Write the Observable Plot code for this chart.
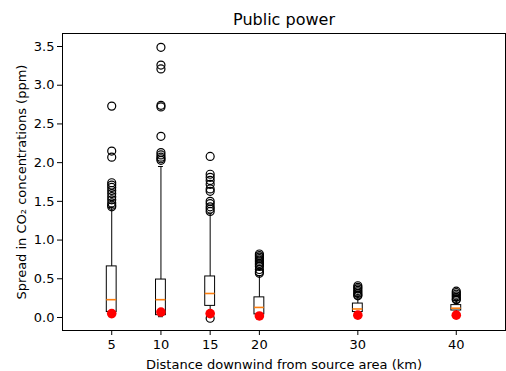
<!DOCTYPE html>
<html>
<head>
<meta charset="utf-8">
<script src="https://cdn.jsdelivr.net/npm/d3@7"></script>
<script src="https://cdn.jsdelivr.net/npm/@observablehq/plot@0.6"></script>
<style>
  html, body { margin: 0; padding: 0; background: #fff; }
</style>
</head>
<body>
<div id="chart"></div>
<script>
const title = "Public power";
const xLabel = "Distance downwind from source area (km)";
const yLabel = "Spread in CO₂ concentrations (ppm)";

const positions = [5, 10, 15, 20, 30, 40];
const q1 = [0.07, 0.03, 0.15, 0.04, 0.07, 0.09];
const medians = [0.23, 0.23, 0.31, 0.13, 0.11, 0.12];
const q3 = [0.66, 0.49, 0.53, 0.26, 0.18, 0.16];
const whiskerLow = [0.01, 0.01, 0.06, 0.00, 0.02, 0.03];
const whiskerHigh = [1.42, 1.95, 1.34, 0.54, 0.27, 0.22];
const redDots = [0.05, 0.07, 0.05, 0.02, 0.03, 0.03];

const outliers5 = [2.73, 2.15, 2.07, 1.74, 1.71, 1.68, 1.64, 1.60, 1.56, 1.52, 1.48, 1.45, 1.43];
const outliers10 = [3.49, 3.26, 3.21, 2.74, 2.72, 2.34, 2.13, 2.10, 2.07, 2.05, 2.03];
const outliers15 = [2.08, 1.85, 1.81, 1.77, 1.72, 1.66, 1.63, 1.50, 1.47, 1.43, 1.40, 1.37, -0.01];
const outliers20 = [0.82, 0.80, 0.78, 0.76, 0.74, 0.72, 0.70, 0.68, 0.66, 0.62, 0.59, 0.57];
const outliers30 = [0.41, 0.39, 0.37, 0.35, 0.33, 0.31, 0.29, 0.28];
const outliers40 = [0.34, 0.32, 0.30, 0.28, 0.26, 0.24, 0.23];

const xTicks = [5, 10, 15, 20, 30, 40];
const yTicks = [0, 0.5, 1, 1.5, 2, 2.5, 3, 3.5];

const boxes = positions.map((p, i) => ({
  p, q1: q1[i], med: medians[i], q3: q3[i], lo: whiskerLow[i], hi: whiskerHigh[i], red: redDots[i]
}));
const outlierLists = [outliers5, outliers10, outliers15, outliers20, outliers30, outliers40];
const fliers = outlierLists.flatMap((arr, i) => arr.map(v => ({p: positions[i], v})));

const halfW = 0.5;
const capW = 0.25;

const chart = Plot.plot({
  width: 506,
  height: 371,
  marginLeft: 62,
  marginRight: 1,
  marginTop: 33,
  marginBottom: 41,
  style: {fontFamily: "DejaVu Sans", fontSize: "13px", color: "black", background: "white"},
  x: {domain: [0, 45]},
  y: {domain: [-0.168, 3.668]},
  marks: [
    Plot.axisX({ticks: xTicks, tickSize: 5, tickPadding: 4, tickFormat: d => String(d),
      label: xLabel, labelAnchor: "center", labelArrow: "none", labelOffset: 38, fontSize: 13}),
    Plot.axisY({ticks: yTicks, tickSize: 5, tickPadding: 3, tickFormat: d => d.toFixed(1),
      label: yLabel, labelAnchor: "center", labelArrow: "none", labelOffset: 46, fontSize: 13}),
    Plot.rect(boxes, {x1: d => d.p - halfW, x2: d => d.p + halfW, y1: "q1", y2: "q3", fill: "none", stroke: "black", strokeWidth: 1}),
    Plot.ruleY(boxes, {x1: d => d.p - halfW, x2: d => d.p + halfW, y: "med", stroke: "#ff7f0e", strokeWidth: 1.6}),
    Plot.ruleX(boxes, {x: "p", y1: "q3", y2: "hi", stroke: "black", strokeWidth: 1}),
    Plot.ruleX(boxes, {x: "p", y1: "lo", y2: "q1", stroke: "black", strokeWidth: 1}),
    Plot.ruleY(boxes, {x1: d => d.p - capW, x2: d => d.p + capW, y: "hi", stroke: "black", strokeWidth: 1}),
    Plot.ruleY(boxes, {x1: d => d.p - capW, x2: d => d.p + capW, y: "lo", stroke: "black", strokeWidth: 1}),
    Plot.dot(fliers, {x: "p", y: "v", r: 4, stroke: "black", fill: "none", strokeWidth: 1.2}),
    Plot.dot(boxes, {x: "p", y: "red", r: 4.8, fill: "red", stroke: "none"}),
    Plot.frame({stroke: "black", strokeWidth: 1}),
    Plot.text([title], {frameAnchor: "top", dy: -20, text: d => d, fontSize: 16, fill: "black"})
  ]
});
document.getElementById("chart").appendChild(chart);
</script>
</body>
</html>
